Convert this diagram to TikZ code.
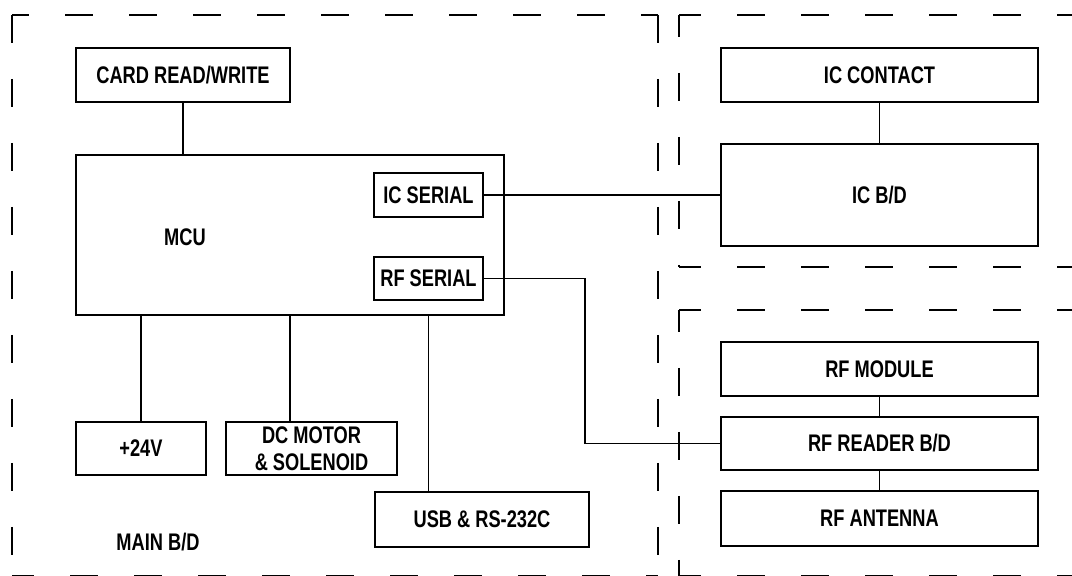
\documentclass[tikz,border=0pt]{standalone}
\usepackage{fontspec}
\setmainfont{Liberation Sans}[FakeStretch=0.76]
\usepackage{tikz}
\usetikzlibrary{positioning, calc}

\begin{document}
\begin{tikzpicture}[
    x=0.5pt, y=-0.5pt,
    blk/.style={draw, line width=1pt, inner sep=1pt, minimum width=158.5pt, minimum height=27pt},
    wire/.style={line width=0.9pt},
    dbox/.style={line width=1.1pt, dash pattern=on 14pt off 18pt, dash phase=3pt},
    every node/.style={font=\bfseries\fontsize{12}{14.5}\selectfont}
]
    \useasboundingbox (0,0) rectangle (1072,576);
    \clip (0,0) rectangle (1072,576);

    % dashed board outlines
    \draw[dbox, dash phase=5.5pt] (12,15) -- (658,15);
    \draw[dbox, dash phase=0pt] (12,15) -- (12,576);
    \draw[dbox, dash phase=0pt] (658,15) -- (658,576);
    \draw[dbox] (12,576.5) -- (658,576.5);
    \draw[dbox] (679,15) -- (1100,15);
    \draw[dbox] (679,15) -- (679,267);
    \draw[dbox] (679,267) -- (1100,267);
    \draw[dbox] (679,310) -- (1100,310);
    \draw[dbox] (679,310) -- (679,576);
    \draw[dbox] (679,576.5) -- (1100,576.5);

    % main board
    \node[blk, minimum width=107pt] (card) at (183,75) {CARD READ/WRITE};
    \node[blk, minimum width=214pt, minimum height=80pt] (mcu) at (290,235) {};
    \node (mculbl) at (185,237) {MCU};
    \node[blk, minimum width=54.5pt, minimum height=22pt] (icser) at (428.5,195) {IC SERIAL};
    \node[blk, minimum width=54.5pt, minimum height=21.5pt] (rfser) at (428.5,278.5) {RF SERIAL};
    \node[blk, minimum width=65pt, minimum height=26.5pt] (pwr) at (141,448.5) {+24V};
    \node[blk, minimum width=85.5pt, minimum height=26.5pt, align=center, inner sep=0pt] (motor) at (311.5,448.5) {DC MOTOR\\[-1pt]\& SOLENOID};
    \node[blk, minimum width=107pt, minimum height=27.5pt] (usb) at (482,519.5) {USB \& RS-232C};
    \node (mainlbl) at (158,542) {MAIN B/D};

    % IC board
    \node[blk] (iccont) at (879.5,75) {IC CONTACT};
    \node[blk, minimum height=51pt] (icbd) at (879.5,195) {IC B/D};

    % RF board
    \node[blk] (rfmod) at (879.5,369) {RF MODULE};
    \node[blk, minimum height=26.5pt] (rfread) at (879.5,443.5) {RF READER B/D};
    \node[blk, minimum height=27.5pt] (rfant) at (879.5,518.5) {RF ANTENNA};

    \coordinate (rfbend) at (585,0);

    \draw[wire] (card.south) -- (card.south |- mcu.north);
    \draw[wire] (pwr.north) -- (pwr.north |- mcu.south);
    \draw[wire] (mcu.south) -- (mcu.south |- motor.north);
    \draw[wire] (mcu.south -| icser) -- (usb.north -| icser);
    \draw[wire] (icser.east) -- (icbd.west);
    \draw[wire] (rfser.east) -- (rfser.east -| rfbend) |- (rfread.west);
    \draw[wire] (iccont.south) -- (icbd.north);
    \draw[wire] (rfmod.south) -- (rfread.north);
    \draw[wire] (rfread.south) -- (rfant.north);
\end{tikzpicture}
\end{document}
